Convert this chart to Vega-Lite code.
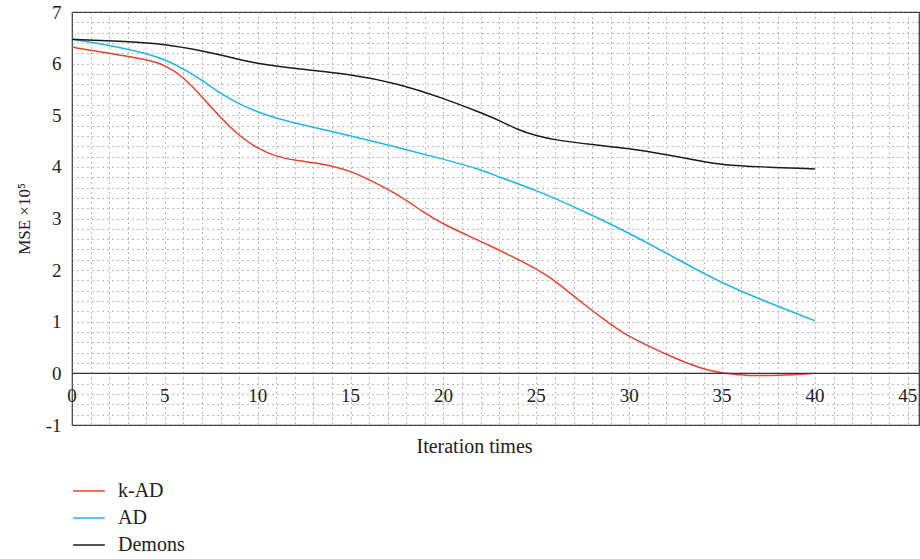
{
  "$schema": "https://vega.github.io/schema/vega-lite/v6.json",
  "autosize": {"type": "none"},
  "width": 847,
  "height": 413,
  "padding": {"left": 72, "top": 12, "right": 1, "bottom": 134},
  "background": "white",
  "config": {
    "font": "Liberation Serif",
    "view": {"stroke": "#333", "strokeWidth": 1.2},
    "axis": {"labelFont": "Liberation Serif", "titleFont": "Liberation Serif", "labelColor": "#222", "titleColor": "#222", "titleFontWeight": "normal"},
    "legend": {"labelFont": "Liberation Serif"}
  },
  "resolve": {"axis": {"x": "independent", "y": "independent"}},
  "datasets": {
    "curves": [
      {"series": "k-AD", "x": 0, "y": 6.32},
      {"series": "k-AD", "x": 2, "y": 6.2},
      {"series": "k-AD", "x": 4, "y": 6.08},
      {"series": "k-AD", "x": 5, "y": 5.98},
      {"series": "k-AD", "x": 6, "y": 5.74},
      {"series": "k-AD", "x": 7, "y": 5.36},
      {"series": "k-AD", "x": 8, "y": 4.95},
      {"series": "k-AD", "x": 9, "y": 4.6},
      {"series": "k-AD", "x": 10, "y": 4.35},
      {"series": "k-AD", "x": 11, "y": 4.2},
      {"series": "k-AD", "x": 12, "y": 4.13},
      {"series": "k-AD", "x": 13, "y": 4.08},
      {"series": "k-AD", "x": 14, "y": 4.02},
      {"series": "k-AD", "x": 15, "y": 3.92},
      {"series": "k-AD", "x": 16, "y": 3.75},
      {"series": "k-AD", "x": 17.5, "y": 3.48},
      {"series": "k-AD", "x": 19, "y": 3.1},
      {"series": "k-AD", "x": 20, "y": 2.88},
      {"series": "k-AD", "x": 22.5, "y": 2.48},
      {"series": "k-AD", "x": 25, "y": 2.03},
      {"series": "k-AD", "x": 26, "y": 1.8},
      {"series": "k-AD", "x": 27.5, "y": 1.35},
      {"series": "k-AD", "x": 29, "y": 0.95},
      {"series": "k-AD", "x": 30, "y": 0.7},
      {"series": "k-AD", "x": 32.5, "y": 0.28},
      {"series": "k-AD", "x": 34, "y": 0.08},
      {"series": "k-AD", "x": 35, "y": 0.0},
      {"series": "k-AD", "x": 36.5, "y": -0.05},
      {"series": "k-AD", "x": 38, "y": -0.04},
      {"series": "k-AD", "x": 40, "y": 0.0},
      {"series": "AD", "x": 0, "y": 6.47},
      {"series": "AD", "x": 2, "y": 6.36},
      {"series": "AD", "x": 4, "y": 6.2},
      {"series": "AD", "x": 5, "y": 6.08},
      {"series": "AD", "x": 6, "y": 5.9},
      {"series": "AD", "x": 7, "y": 5.68},
      {"series": "AD", "x": 8, "y": 5.42},
      {"series": "AD", "x": 9, "y": 5.22},
      {"series": "AD", "x": 10, "y": 5.06},
      {"series": "AD", "x": 11, "y": 4.94},
      {"series": "AD", "x": 12, "y": 4.85},
      {"series": "AD", "x": 13, "y": 4.77},
      {"series": "AD", "x": 15, "y": 4.6},
      {"series": "AD", "x": 17.5, "y": 4.38},
      {"series": "AD", "x": 20, "y": 4.15},
      {"series": "AD", "x": 22, "y": 3.95},
      {"series": "AD", "x": 23, "y": 3.8},
      {"series": "AD", "x": 25, "y": 3.55},
      {"series": "AD", "x": 27.5, "y": 3.15},
      {"series": "AD", "x": 30, "y": 2.72},
      {"series": "AD", "x": 32.5, "y": 2.23},
      {"series": "AD", "x": 35, "y": 1.74},
      {"series": "AD", "x": 37.5, "y": 1.37},
      {"series": "AD", "x": 40, "y": 1.02},
      {"series": "Demons", "x": 0, "y": 6.47},
      {"series": "Demons", "x": 3, "y": 6.43},
      {"series": "Demons", "x": 5, "y": 6.38},
      {"series": "Demons", "x": 7, "y": 6.25},
      {"series": "Demons", "x": 9, "y": 6.08},
      {"series": "Demons", "x": 10, "y": 6.0},
      {"series": "Demons", "x": 12, "y": 5.9},
      {"series": "Demons", "x": 15, "y": 5.8},
      {"series": "Demons", "x": 17.5, "y": 5.62},
      {"series": "Demons", "x": 20, "y": 5.33},
      {"series": "Demons", "x": 22, "y": 5.05},
      {"series": "Demons", "x": 23, "y": 4.9},
      {"series": "Demons", "x": 24, "y": 4.72},
      {"series": "Demons", "x": 25, "y": 4.6},
      {"series": "Demons", "x": 26, "y": 4.52},
      {"series": "Demons", "x": 28, "y": 4.43},
      {"series": "Demons", "x": 30, "y": 4.36},
      {"series": "Demons", "x": 32, "y": 4.24},
      {"series": "Demons", "x": 34, "y": 4.1},
      {"series": "Demons", "x": 35, "y": 4.04},
      {"series": "Demons", "x": 37, "y": 4.0},
      {"series": "Demons", "x": 40, "y": 3.96}
    ],
    "xlabels": [
      {"x": 0, "label": "0"}, {"x": 5, "label": "5"}, {"x": 10, "label": "10"},
      {"x": 15, "label": "15"}, {"x": 20, "label": "20"}, {"x": 25, "label": "25"},
      {"x": 30, "label": "30"}, {"x": 35, "label": "35"}, {"x": 40, "label": "40"},
      {"x": 45, "label": "45"}
    ],
    "zero": [{"x0": 0, "x1": 45.6, "y": 0}]
  },
  "layer": [
    {
      "data": {"name": "curves"},
      "mark": {"type": "line", "interpolate": "basis", "strokeWidth": 1.5},
      "encoding": {
        "x": {
          "field": "x", "type": "quantitative",
          "scale": {"domain": [0, 45.6], "nice": false, "zero": false},
          "axis": {
            "orient": "bottom",
            "values": [0,1,2,3,4,5,6,7,8,9,10,11,12,13,14,15,16,17,18,19,20,21,22,23,24,25,26,27,28,29,30,31,32,33,34,35,36,37,38,39,40,41,42,43,44,45],
            "labels": false, "ticks": false, "domain": false,
            "grid": true, "gridColor": "#777", "gridDash": [1, 4], "gridWidth": 1,
            "title": "Iteration times", "titleFontSize": 20, "titlePadding": 11, "titleX": 402
          }
        },
        "y": {
          "field": "y", "type": "quantitative",
          "scale": {"domain": [-1, 7], "nice": false, "zero": false},
          "axis": {
            "orient": "left",
            "values": [-1,-0.8,-0.6,-0.4,-0.2,0,0.2,0.4,0.6,0.8,1,1.2,1.4,1.6,1.8,2,2.2,2.4,2.6,2.8,3,3.2,3.4,3.6,3.8,4,4.2,4.4,4.6,4.8,5,5.2,5.4,5.6,5.8,6,6.2,6.4,6.6,6.8,7],
            "labelExpr": "datum.value % 1 == 0 ? '' + datum.value : ''",
            "labelOverlap": false, "labelFontSize": 19, "labelPadding": 11,
            "ticks": false, "domain": false,
            "grid": true, "gridColor": "#777", "gridDash": [1, 4], "gridWidth": 1,
            "title": "MSE ×10⁵", "titleFontSize": 17, "titlePadding": 12
          }
        },
        "color": {
          "field": "series", "type": "nominal",
          "scale": {"domain": ["k-AD", "AD", "Demons"], "range": ["#e8412c", "#1fb5ec", "#1a1a1a"]},
          "legend": {
            "title": null, "orient": "none", "legendX": 0, "legendY": 462,
            "symbolType": "stroke", "symbolSize": 1000, "symbolStrokeWidth": 1.5,
            "labelFontSize": 20, "labelOffset": 12, "rowPadding": -5, "labelColor": "#222"
          }
        }
      }
    },
    {
      "data": {"name": "zero"},
      "mark": {"type": "rule", "color": "#333", "strokeWidth": 1.3},
      "encoding": {
        "x": {"field": "x0", "type": "quantitative", "axis": null},
        "x2": {"field": "x1"},
        "y": {"field": "y", "type": "quantitative", "axis": null}
      }
    },
    {
      "data": {"name": "xlabels"},
      "mark": {"type": "text", "fontSize": 19, "baseline": "middle", "align": "center", "color": "#222", "font": "Liberation Serif"},
      "encoding": {
        "x": {"field": "x", "type": "quantitative", "axis": null},
        "y": {"datum": -0.43, "axis": null},
        "text": {"field": "label"}
      }
    }
  ]
}
